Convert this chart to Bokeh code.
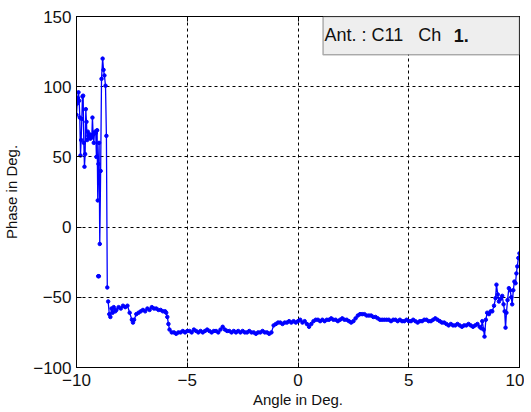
import numpy as np
from bokeh.plotting import figure
from bokeh.models import Range1d, FixedTicker, LinearAxis, BoxAnnotation, Label
from bokeh.embed import file_html
from bokeh.resources import INLINE

# ---- data ----
# left, strongly oscillating part
left_angle = [-10.00, -9.97, -9.94, -9.91, -9.88, -9.85, -9.82, -9.79, -9.76, -9.73,
              -9.70, -9.67, -9.64, -9.61, -9.58, -9.55, -9.52, -9.49, -9.46, -9.43,
              -9.40, -9.37, -9.34, -9.31, -9.28, -9.25, -9.22, -9.19, -9.16, -9.13,
              -9.10, -9.07, -9.04, -9.01, -8.98, -8.95, -8.91, -8.87, -8.82, -8.78,
              -8.74, -8.69, -8.65, -8.61]
left_phase = [80, 88, 92, 96, 90, 78, 51, 62, 77, 93,
              93.6, 60, 43, 52, 84, 75, 62, 68, 65, 64,
              66, 63, 65, 64, 78, 66, 60, 67, 68, 67,
              50, 69, 19, 45, 60, -12, 40, 105.6, 120, 112,
              108, 100.7, 65, -43]

# isolated sample
iso_angle = [-9.02, -8.99]
iso_phase = [-35, -35]

# plateau around -60 and drop
plat_angle = [-8.57, -8.52, -8.47, -8.42, -8.37, -8.32, -8.25, -8.2, -8.1, -8.0,
              -7.9, -7.8, -7.7, -7.6, -7.5, -7.45, -7.4, -7.3, -7.2, -7.1,
              -7.0, -6.9, -6.8, -6.7, -6.6, -6.5, -6.4, -6.3, -6.2, -6.1,
              -6.0, -5.95, -5.9, -5.85, -5.8, -5.7, -5.6, -5.5, -5.4, -5.3]
plat_phase = [-53, -62, -64, -58, -61, -57, -60, -59, -57, -58,
              -56, -57, -56, -61, -66, -68, -66, -62, -61, -60,
              -59, -60, -58, -59, -57, -58, -58, -59, -59, -60,
              -60, -61, -64, -69, -73, -75, -75, -76, -75, -75]

# long flat middle part
mid_angle = [-5.2, -5.1, -5.0, -4.9, -4.8, -4.7, -4.6, -4.5, -4.4, -4.3,
             -4.2, -4.1, -4.0, -3.9, -3.8, -3.7, -3.6, -3.5, -3.4, -3.3,
             -3.2, -3.1, -3.0, -2.9, -2.8, -2.7, -2.6, -2.5, -2.4, -2.3,
             -2.2, -2.1, -2.0, -1.9, -1.8, -1.7, -1.6, -1.5, -1.4, -1.3,
             -1.2, -1.1, -1.0, -0.9, -0.8, -0.7, -0.6, -0.5, -0.4, -0.3,
             -0.2, -0.1, 0.0, 0.1, 0.2, 0.3, 0.4, 0.5, 0.6, 0.7,
             0.8, 0.9, 1.0, 1.1, 1.2, 1.3, 1.4, 1.5, 1.6, 1.7,
             1.8, 1.9, 2.0, 2.1, 2.2, 2.3, 2.4, 2.5, 2.6, 2.7,
             2.8, 2.9, 3.0, 3.1, 3.2, 3.3, 3.4, 3.5, 3.6, 3.7,
             3.8, 3.9, 4.0, 4.1, 4.2, 4.3, 4.4, 4.5, 4.6, 4.7,
             4.8, 4.9, 5.0, 5.1, 5.2, 5.3, 5.4, 5.5, 5.6, 5.7,
             5.8, 5.9, 6.0, 6.1, 6.2, 6.3, 6.4, 6.5, 6.6, 6.7,
             6.8, 6.9, 7.0, 7.1, 7.2, 7.3, 7.4, 7.5, 7.6, 7.7,
             7.8, 7.9, 8.0]
mid_phase = [-74, -75, -74, -74, -75, -73, -74, -75, -74, -75,
             -74, -73, -74, -75, -74, -74, -75, -73, -71, -73,
             -74, -74, -75, -74, -75, -74, -75, -74, -75, -75,
             -74, -75, -75, -76, -75, -75, -74, -75, -75, -76,
             -75, -70, -69, -68, -68, -69, -68, -68, -67, -68,
             -67, -68, -67, -66, -68, -67, -69, -71, -69, -67,
             -66, -66, -67, -66, -67, -66, -66, -65, -66, -66,
             -67, -66, -65, -66, -66, -67, -68, -67, -65, -63,
             -62, -62, -62, -63, -63, -63, -64, -64, -65, -66,
             -66, -66, -66, -66, -67, -66, -66, -67, -66, -67,
             -67, -66, -67, -67, -66, -67, -68, -67, -67, -66,
             -66, -67, -67, -66, -65, -66, -67, -68, -68, -69,
             -70, -69, -70, -70, -69, -70, -71, -70, -70, -69,
             -70, -71, -70]

# right, oscillating part
right_angle = [8.1, 8.2, 8.27, 8.32, 8.38, 8.42, 8.48, 8.54, 8.62, 8.7,
               8.77, 8.85, 8.92, 8.96, 9.02, 9.07, 9.15, 9.22, 9.28, 9.33,
               9.37, 9.41, 9.46, 9.52, 9.58, 9.63, 9.67, 9.72, 9.77, 9.82,
               9.86, 9.9, 9.95, 10.0]
right_phase = [-69, -71, -72, -67, -73, -78, -66, -61, -62, -60,
               -60, -56, -50.6, -41, -48, -53, -51, -49, -55, -60,
               -71.6, -61, -52, -43.5, -45, -50, -55, -45, -38.8, -40,
               -33, -28, -22, -18.7]

x_ticks = [-10, -5, 0, 5, 10]
y_ticks = [-100, -50, 0, 50, 100, 150]
legend_text = "Ant. : C11\u00a0\u00a0\u00a0Ch"
legend_bold = "1."

for a, b in [(left_angle, left_phase), (iso_angle, iso_phase), (plat_angle, plat_phase),
             (mid_angle, mid_phase), (right_angle, right_phase)]:
    assert len(a) == len(b)

nan = [np.nan]
angle = np.array(left_angle + nan + iso_angle + nan + plat_angle + mid_angle + right_angle, dtype=float)
phase = np.array(left_phase + nan + iso_phase + nan + plat_phase + mid_phase + right_phase, dtype=float)

FONT = "Liberation Sans"
TXT = "#111111"

p = figure(width=524, height=412, output_backend="svg", toolbar_location=None,
           x_range=Range1d(x_ticks[0], x_ticks[-1]), y_range=Range1d(y_ticks[0], y_ticks[-1]),
           min_border_left=75, min_border_right=5, min_border_top=16, min_border_bottom=45)
p.background_fill_color = "white"
p.border_fill_color = "white"
p.outline_line_color = "black"
p.outline_line_width = 1

p.line(angle, phase, line_color="#0000ff", line_width=1.3)
p.scatter(angle, phase, size=3.5, fill_color="#0000ff", line_color="#0000ff")

def style_axis(ax, ticks, show_labels=True):
    ax.ticker = FixedTicker(ticks=ticks)
    ax.major_tick_in = 5
    ax.major_tick_out = 0
    ax.minor_tick_in = 0
    ax.minor_tick_out = 0
    ax.axis_line_color = "black"
    ax.axis_line_width = 1
    ax.major_tick_line_color = "black"
    ax.major_label_text_font = FONT
    ax.major_label_text_font_size = "17px"
    ax.major_label_text_color = TXT
    ax.axis_label_text_font = FONT
    ax.axis_label_text_font_style = "normal"
    ax.axis_label_text_font_size = "15px"
    ax.axis_label_text_color = TXT
    if not show_labels:
        ax.major_label_overrides = {t: "" for t in ticks}
        ax.major_label_standoff = 0

style_axis(p.xaxis[0], x_ticks)
style_axis(p.yaxis[0], y_ticks)
p.xaxis[0].axis_label = "Angle in Deg."
p.yaxis[0].axis_label = "Phase in Deg."
p.xaxis[0].major_label_standoff = 6
p.xaxis[0].axis_label_standoff = 2
p.yaxis[0].major_label_standoff = 5
p.yaxis[0].axis_label_standoff = 10

top_ax = LinearAxis()
style_axis(top_ax, x_ticks, show_labels=False)
p.add_layout(top_ax, "above")
right_ax = LinearAxis()
style_axis(right_ax, y_ticks, show_labels=False)
p.add_layout(right_ax, "right")

for g, ticks in [(p.xgrid[0], x_ticks), (p.ygrid[0], y_ticks)]:
    g.ticker = FixedTicker(ticks=ticks)
    g.grid_line_color = "black"
    g.grid_line_dash = "3 3"
    g.grid_line_width = 1

# annotation box (top right)
box = BoxAnnotation(left=1.13, right=10, bottom=122.7, top=150,
                    fill_color="#eeeeee", fill_alpha=1.0,
                    line_color="black", line_width=1.5)
p.add_layout(box)
p.add_layout(Label(x=1.2, y=136.5, text=legend_text, text_baseline="middle",
                   text_font=FONT, text_font_size="18px", text_color=TXT))
p.add_layout(Label(x=7.03, y=136.5, text=legend_bold, text_baseline="middle",
                   text_font=FONT, text_font_size="18px", text_font_style="bold",
                   text_color=TXT))

open("out.html", "w").write(file_html(p, INLINE))
